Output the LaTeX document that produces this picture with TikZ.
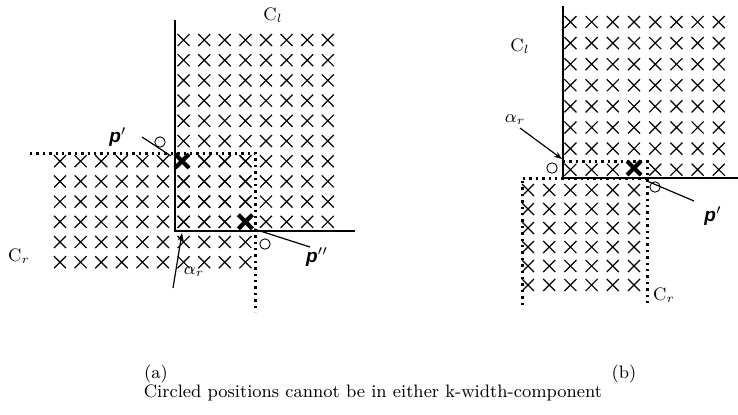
\documentclass[tikz,border=0pt]{standalone}
\usepackage{fontspec}
\setsansfont{Liberation Sans}
\usetikzlibrary{arrows.meta}
\begin{document}
\begin{tikzpicture}[x=0.5pt,y=-0.5pt,
  smallx/.pic={\draw[line width=0.6pt] (-6,-6)--(6,6) (-6,6)--(6,-6);},
  bigx/.pic={\draw[line width=2.1pt] (-7,-7)--(7,7) (-7,7)--(7,-7);},
  bound/.style={line width=0.55pt},
  dots/.style={line width=1.5pt,dash pattern=on 1.2pt off 2pt},
  ring/.style={draw,circle,line width=0.45pt,minimum size=5.2pt,inner sep=0pt},
  lead/.style={line width=0.6pt},
  leadarrow/.style={line width=0.6pt,-{Stealth[length=4pt,width=3pt]}},
  lab/.style={font=\fontsize{9}{10}\selectfont,inner sep=0pt},
  plab/.style={font=\fontsize{9.5}{10}\selectfont\sffamily\bfseries\itshape,inner sep=0pt},
  captext/.style={font=\fontsize{9}{10}\selectfont,inner sep=0pt}]
\useasboundingbox (0,0) rectangle (738,414);

% ---------- panel (a) ----------
\foreach \i in {6,...,13} \foreach \j in {0,...,9}
  \pic at ({60+20.6*\i},{40+20.2*\j}) {smallx};
\foreach \i in {0,...,9} \foreach \j in {6,...,11}
  \pic at ({60+20.6*\i},{40+20.2*\j}) {smallx};
\draw[bound] (175,20) -- (175,231) -- (355,231);
\draw[dots] (30,153) -- (255,153) -- (255,312);
\pic at (182,161) {bigx};
\pic at (245.4,221.8) {bigx};
\node[ring] (oa1) at (160,142) {};
\node[ring] (oa2) at (265,244) {};
\node[lab] (cla) at (273,15) {C$_{l}$};
\node[lab] (cra) at (19,256) {C$_{r}$};
\node[plab] (ppa) at (118,137) {p$'$};
\coordinate (ppa-s) at (142,137);
\coordinate (ppa-e) at (171,156);
\draw[lead] (ppa-s) -- (ppa-e);
\node[plab] (pppa) at (317,257) {p$''$};
\coordinate (pppa-s) at (310,247);
\coordinate (pppa-e) at (254,229);
\draw[lead] (pppa-s) -- (pppa-e);
\node[lab] (ara) at (194,272) {$\alpha_{r}$};
\coordinate (ara-s) at (173,288);
\coordinate (ara-e) at (182,233);
\draw[leadarrow] (ara-s) -- (ara-e);

% ---------- panel (b) ----------
\foreach \i in {2,...,9} \foreach \j in {0,...,7}
  \pic at ({528+21.2*\i},{22+21.1*\j}) {smallx};
\foreach \i in {0,...,5} \foreach \j in {0,...,5}
  \pic at ({528+21.2*\i},{190+19*\j}) {smallx};
\draw[bound] (563,6) -- (563,178) -- (738,178);
\draw[dots] (563,161) -- (647,161) -- (647,305);
\draw[dots] (522,305) -- (522,178) -- (647,178);
\pic at (634,168) {bigx};
\node[ring] (ob1) at (552,168) {};
\node[ring] (ob2) at (655,187) {};
\node[lab] (clb) at (520,46) {C$_{l}$};
\node[lab] (crb) at (664,295) {C$_{r}$};
\node[plab] (ppb) at (713,216) {p$'$};
\coordinate (ppb-s) at (694,201);
\coordinate (ppb-e) at (647,181);
\draw[lead] (ppb-s) -- (ppb-e);
\node[lab] (arb) at (515,120) {$\alpha_{r}$};
\coordinate (arb-s) at (520,128);
\coordinate (arb-e) at (562,159);
\draw[leadarrow] (arb-s) -- (arb-e);

% ---------- captions ----------
\node[captext] (capa) at (156,374) {(a)};
\node[captext] (capb) at (624,374) {(b)};
\node[captext] (capt) at (373,393) {Circled positions cannot be in either k-width-component};
\end{tikzpicture}
\end{document}
